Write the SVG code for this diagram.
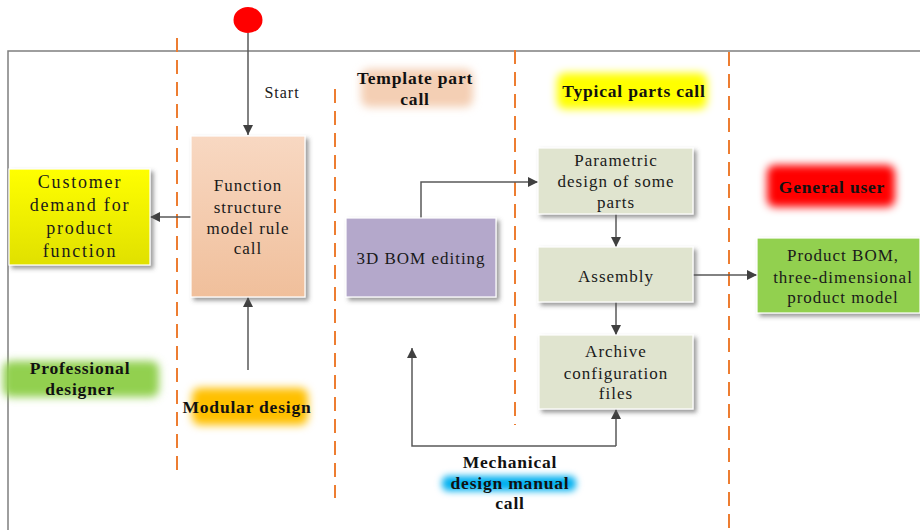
<svg xmlns="http://www.w3.org/2000/svg" width="920" height="530" viewBox="0 0 920 530">
  <style>
    .frame { fill: none; stroke: #7f7f7f; stroke-width: 1.5; }
    .lane { fill: none; stroke: #ed7d31; stroke-width: 2; stroke-dasharray: 14 8; }
    .conn { fill: none; stroke: #595959; stroke-width: 1.5; }
    .box { stroke: #ffffff; stroke-width: 1.2; filter: url(#shadow); }
    text { font-family: "Liberation Serif", "DejaVu Serif", "Times New Roman", serif; text-anchor: middle; dominant-baseline: central; }
    .t { font-size: 17px; letter-spacing: 1px; fill: #1a1a1a; }
    .big { font-size: 18px; letter-spacing: 1.8px; }
    .tb { font-size: 17.5px; letter-spacing: 0.8px; font-weight: bold; fill: #111111; }
    .glow { filter: url(#soft); }
  </style>
  <defs>
    <marker id="arrow" viewBox="0 0 10 10" refX="10" refY="5" markerWidth="10" markerHeight="10" markerUnits="userSpaceOnUse" orient="auto">
      <path d="M0,0 L10,5 L0,10 Z" fill="#404040"/>
    </marker>
    <filter id="shadow" x="-20%" y="-20%" width="150%" height="150%">
      <feDropShadow dx="3" dy="3" stdDeviation="2" flood-color="#555555" flood-opacity="0.6"/>
    </filter>
    <filter id="soft" x="-30%" y="-50%" width="160%" height="200%">
      <feGaussianBlur stdDeviation="4.5"/>
    </filter>
    <filter id="softBlue" x="-30%" y="-80%" width="160%" height="260%">
      <feGaussianBlur stdDeviation="3.5"/>
    </filter>
    <linearGradient id="peach" x1="0" y1="0" x2="0" y2="1">
      <stop offset="0" stop-color="#f8d8c2"/>
      <stop offset="1" stop-color="#f0bf9b"/>
    </linearGradient>
    <linearGradient id="yellow" x1="0" y1="0" x2="0" y2="1">
      <stop offset="0" stop-color="#ffff00"/>
      <stop offset="1" stop-color="#e0e000"/>
    </linearGradient>
  </defs>

  <!-- pool frame -->
  <path class="frame" d="M8,530 V51 H920"/>

  <!-- lane separators -->
  <g id="lanes">
    <line class="lane" x1="177" y1="38" x2="177" y2="470"/>
    <line class="lane" x1="335" y1="89" x2="335" y2="498"/>
    <line class="lane" x1="515" y1="50" x2="515" y2="425"/>
    <line class="lane" x1="729" y1="52" x2="729" y2="530"/>
  </g>

  <!-- lane labels -->
  <g id="label-template">
    <rect class="glow" x="361" y="69" width="112" height="38" rx="8" fill="#f4cfb4"/>
    <text class="tb" x="415" y="78">Template part</text>
    <text class="tb" x="415" y="99">call</text>
  </g>
  <g id="label-typical">
    <rect class="glow" x="557" y="73" width="150" height="36" rx="8" fill="#ffff00"/>
    <text class="tb" x="634" y="91">Typical parts call</text>
  </g>
  <g id="label-general">
    <rect class="glow" x="767" y="165" width="128" height="42" rx="8" fill="#ff0000"/>
    <text class="tb" x="832" y="187">General user</text>
  </g>
  <g id="label-professional">
    <rect class="glow" x="3" y="361" width="156" height="36" rx="8" fill="#92d050"/>
    <text class="tb" x="80" y="368">Professional</text>
    <text class="tb" x="80" y="389">designer</text>
  </g>
  <g id="label-modular">
    <rect class="glow" x="192" y="388" width="116" height="37" rx="8" fill="#ffc000"/>
    <text class="tb" x="247" y="407">Modular design</text>
  </g>
  <g id="label-mechanical">
    <rect x="442" y="476" width="134" height="15" rx="6" fill="#00b0f0" filter="url(#softBlue)"/>
    <text class="tb" x="510" y="462">Mechanical</text>
    <text class="tb" x="510" y="483">design manual</text>
    <text class="tb" x="510" y="503">call</text>
  </g>

  <!-- start event -->
  <g id="start">
    <ellipse cx="248" cy="20" rx="14.5" ry="13" fill="#ff0000"/>
  </g>

  <!-- connectors -->
  <g id="connectors">
    <line class="conn" x1="248" y1="33" x2="248" y2="135" marker-end="url(#arrow)"/>
    <line class="conn" x1="191" y1="217" x2="150" y2="217" marker-end="url(#arrow)"/>
    <line class="conn" x1="248" y1="370" x2="248" y2="297" marker-end="url(#arrow)"/>
    <polyline class="conn" points="421,218 421,182 538,182" marker-end="url(#arrow)"/>
    <line class="conn" x1="616" y1="214" x2="616" y2="247" marker-end="url(#arrow)"/>
    <line class="conn" x1="693" y1="275" x2="757" y2="275" marker-end="url(#arrow)"/>
    <line class="conn" x1="616" y1="302" x2="616" y2="335" marker-end="url(#arrow)"/>
    <polyline class="conn" points="616,446 616,409" marker-end="url(#arrow)"/>
    <polyline class="conn" points="616,446 412,446 412,348" marker-end="url(#arrow)"/>
    <text class="t" x="282" y="92" style="font-size:16px;letter-spacing:1px">Start</text>
  </g>

  <!-- process nodes -->
  <g id="function-structure">
    <rect class="box" x="191" y="136" width="114" height="161" fill="url(#peach)"/>
    <text class="t" x="248" y="185">Function</text>
    <text class="t" x="248" y="207">structure</text>
    <text class="t" x="248" y="228">model rule</text>
    <text class="t" x="248" y="248">call</text>
  </g>
  <g id="customer-demand">
    <rect class="box" x="9" y="169" width="141" height="96" fill="url(#yellow)"/>
    <text class="t big" x="80" y="182">Customer</text>
    <text class="t big" x="80" y="205">demand for</text>
    <text class="t big" x="80" y="228">product</text>
    <text class="t big" x="80" y="251">function</text>
  </g>
  <g id="bom-editing">
    <rect class="box" x="346" y="218" width="150" height="79" fill="#b4a8cb"/>
    <text class="t" x="421" y="258">3D BOM editing</text>
  </g>
  <g id="parametric-design">
    <rect class="box" x="538" y="148" width="155" height="66" fill="#e0e4cf"/>
    <text class="t" x="616" y="160">Parametric</text>
    <text class="t" x="616" y="181">design of some</text>
    <text class="t" x="616" y="202">parts</text>
  </g>
  <g id="assembly">
    <rect class="box" x="538" y="247" width="155" height="55" fill="#e0e4cf"/>
    <text class="t" x="616" y="276">Assembly</text>
  </g>
  <g id="archive">
    <rect class="box" x="539" y="335" width="154" height="74" fill="#e0e4cf"/>
    <text class="t" x="616" y="351">Archive</text>
    <text class="t" x="616" y="373">configuration</text>
    <text class="t" x="616" y="393">files</text>
  </g>
  <g id="product-bom">
    <rect class="box" x="757" y="238" width="163" height="75" fill="#92d050"/>
    <text class="t" x="843" y="255">Product BOM,</text>
    <text class="t" x="843" y="277">three-dimensional</text>
    <text class="t" x="843" y="297">product model</text>
  </g>
</svg>
